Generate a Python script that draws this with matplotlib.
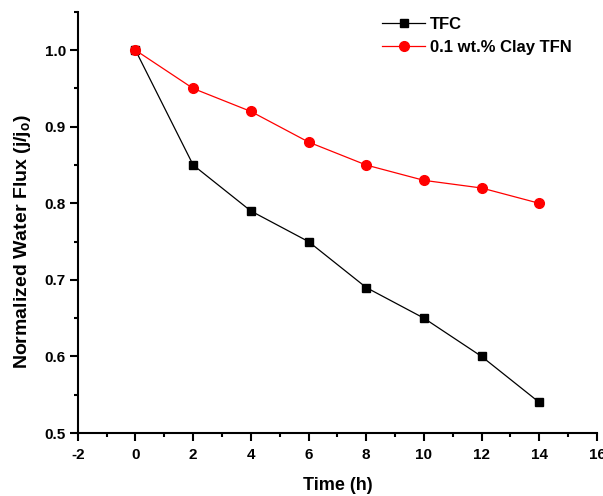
import matplotlib
matplotlib.use('Agg')
import matplotlib.pyplot as plt
from matplotlib.ticker import MultipleLocator

plt.rcParams['font.family'] = ['Liberation Sans', 'DejaVu Sans']
plt.rcParams['font.weight'] = 'bold'
plt.rcParams['mathtext.fontset'] = 'custom'
plt.rcParams['mathtext.bf'] = 'Liberation Sans:bold'
plt.rcParams['mathtext.rm'] = 'Liberation Sans:bold'
plt.rcParams['axes.unicode_minus'] = False

time_h = [0, 2, 4, 6, 8, 10, 12, 14]
tfc = [1.0, 0.85, 0.79, 0.75, 0.69, 0.65, 0.60, 0.54]
clay_tfn = [1.0, 0.95, 0.92, 0.88, 0.85, 0.83, 0.82, 0.80]

fig = plt.figure(figsize=(6.03, 4.96), dpi=100)
ax = fig.add_axes([0.129, 0.127, 0.861, 0.849])

ax.plot(time_h, tfc, color='black', marker='s', markersize=6, linewidth=0.9, label='TFC')
ax.plot(time_h, clay_tfn, color='red', marker='o', markersize=7, linewidth=0.9, label='0.1 wt.% Clay TFN')

ax.set_xlim(-2, 16)
ax.set_ylim(0.5, 1.05)
ax.xaxis.set_major_locator(MultipleLocator(2))
ax.xaxis.set_minor_locator(MultipleLocator(1))
ax.yaxis.set_major_locator(MultipleLocator(0.1))
ax.yaxis.set_minor_locator(MultipleLocator(0.05))
ax.yaxis.set_major_formatter(plt.FormatStrFormatter('%.1f'))

for s in ['top', 'right']:
    ax.spines[s].set_visible(False)
for s in ['left', 'bottom']:
    ax.spines[s].set_linewidth(1.5)
ax.tick_params(which='major', direction='out', length=5.5, width=1.5, labelsize=11, pad=3)
ax.tick_params(axis='x', which='major', pad=5)
ax.tick_params(which='minor', direction='out', length=3, width=1.5)

ax.set_xlabel('Time (h)', fontsize=13, fontweight='bold', labelpad=11)
ax.set_ylabel(r'Normalized Water Flux (j/j$_\mathbf{o}$)', fontsize=14, fontweight='bold')
ax.yaxis.set_label_coords(-0.086, 0.455)

ax.legend(loc='upper left', bbox_to_anchor=(382 / 603, 1 - 17 / 496), bbox_transform=fig.transFigure,
          frameon=False, fontsize=12, handlelength=2.6, handletextpad=0.3,
          borderpad=0, borderaxespad=0, labelspacing=0.5)

fig.savefig('out.png', dpi=100)
